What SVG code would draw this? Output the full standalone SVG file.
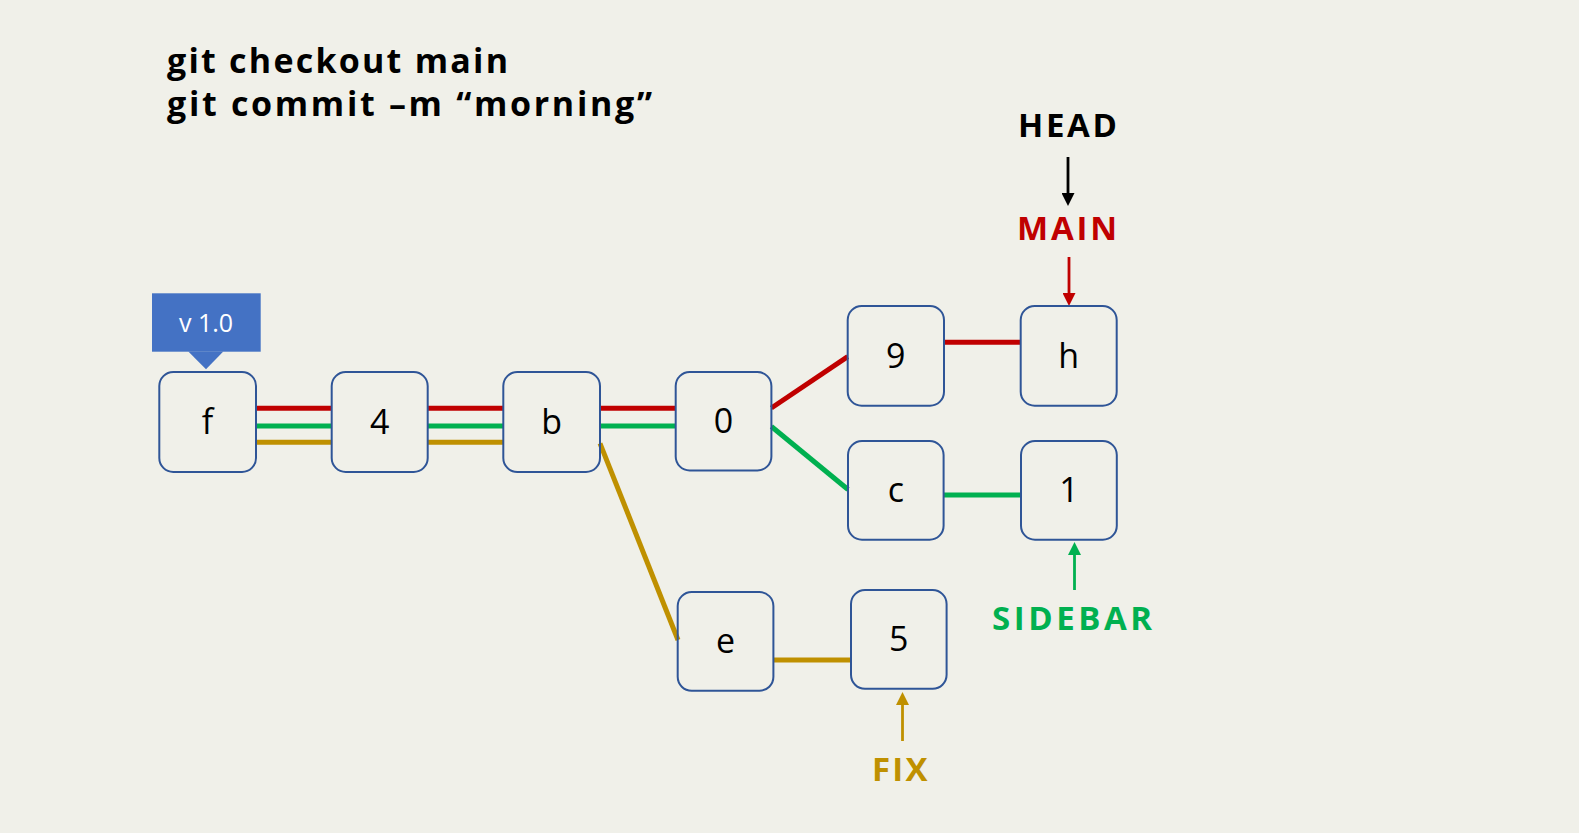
<svg xmlns="http://www.w3.org/2000/svg" width="1579" height="833" viewBox="0 0 1579 833">
  <style>
    .node rect { fill: none; stroke: #2F5597; stroke-width: 2; }
    .node text { font-family: "Open Sans", "Liberation Sans", sans-serif; font-size: 34px; fill: #000; text-anchor: middle; }
    .title { font-family: "Open Sans", "Liberation Sans", sans-serif; font-weight: bold; font-size: 34px; fill: #000; }
    .lbl { font-family: "Open Sans", "Liberation Sans", sans-serif; font-weight: bold; font-size: 33px; }
    .red { stroke: #C00000; }
    .green { stroke: #00B050; }
    .gold { stroke: #BF9000; }
    .edge { stroke-width: 5; fill: none; }
    .ptr { stroke-width: 2.8; fill: none; }
  </style>
  <defs>
    <marker id="ah-black" markerUnits="userSpaceOnUse" markerWidth="13" markerHeight="13" refX="3" refY="6.5" orient="auto"><path d="M0,0 L13,6.5 L0,13 z" fill="#000"/></marker>
    <marker id="ah-red" markerUnits="userSpaceOnUse" markerWidth="13" markerHeight="13" refX="3" refY="6.5" orient="auto"><path d="M0,0 L13,6.5 L0,13 z" fill="#C00000"/></marker>
    <marker id="ah-green" markerUnits="userSpaceOnUse" markerWidth="13" markerHeight="13" refX="3" refY="6.5" orient="auto"><path d="M0,0 L13,6.5 L0,13 z" fill="#00B050"/></marker>
    <marker id="ah-gold" markerUnits="userSpaceOnUse" markerWidth="13" markerHeight="13" refX="3" refY="6.5" orient="auto"><path d="M0,0 L13,6.5 L0,13 z" fill="#BF9000"/></marker>
  </defs>

  <rect x="0" y="0" width="1579" height="833" fill="#F0F0E9"/>

  <g id="title">
    <text class="title" x="167" y="73" textLength="341" lengthAdjust="spacing">git checkout main</text>
    <text class="title" x="167" y="116" textLength="485" lengthAdjust="spacing">git commit –m “morning”</text>
  </g>

  <g id="connectors">
    <line class="edge red" x1="256" y1="408.3" x2="331.7" y2="408.3"/>
    <line class="edge green" x1="256" y1="426" x2="331.7" y2="426"/>
    <line class="edge gold" x1="256" y1="442.3" x2="331.7" y2="442.3"/>
    <line class="edge red" x1="427.7" y1="408.3" x2="503.3" y2="408.3"/>
    <line class="edge green" x1="427.7" y1="426" x2="503.3" y2="426"/>
    <line class="edge gold" x1="427.7" y1="442.3" x2="503.3" y2="442.3"/>
    <line class="edge red" x1="600" y1="408.3" x2="675.7" y2="408.3"/>
    <line class="edge green" x1="600" y1="426" x2="675.7" y2="426"/>
    <line class="edge gold" x1="600" y1="443.3" x2="678" y2="640"/>
    <line class="edge red" x1="771.4" y1="408" x2="847.7" y2="356.6"/>
    <line class="edge green" x1="771.4" y1="426.5" x2="848" y2="489.5"/>
    <line class="edge red" x1="944" y1="342.3" x2="1020.7" y2="342.3"/>
    <line class="edge green" x1="943.6" y1="495" x2="1021" y2="495"/>
    <line class="edge gold" x1="773.4" y1="660" x2="851" y2="660"/>

    <line class="ptr" stroke="#000" x1="1068" y1="157" x2="1068" y2="196" marker-end="url(#ah-black)"/>
    <line class="ptr red" x1="1069" y1="257" x2="1069" y2="296" marker-end="url(#ah-red)"/>
    <line class="ptr green" x1="1074.5" y1="590" x2="1074.5" y2="552" marker-end="url(#ah-green)"/>
    <line class="ptr gold" x1="902.5" y1="741" x2="902.5" y2="702" marker-end="url(#ah-gold)"/>
  </g>

  <g id="tag-v1">
    <rect x="152" y="293.3" width="108.7" height="58.4" fill="#4472C4"/>
    <polygon points="188.3,351.5 223.3,351.5 206,369.3" fill="#4472C4"/>
    <text x="206" y="332" font-family="Open Sans, Liberation Sans, sans-serif" font-size="25" fill="#FFFFFF" text-anchor="middle">v 1.0</text>
  </g>

  <g id="node-f" class="node"><rect x="159.3" y="372" width="96.7" height="100" rx="14"/><text x="207.6" y="434">f</text></g>
  <g id="node-4" class="node"><rect x="331.7" y="372" width="96" height="100" rx="14"/><text x="379.7" y="434">4</text></g>
  <g id="node-b" class="node"><rect x="503.3" y="372" width="96.7" height="100" rx="14"/><text x="551.6" y="434">b</text></g>
  <g id="node-0" class="node"><rect x="675.7" y="372" width="95.7" height="98.5" rx="14"/><text x="723.5" y="433">0</text></g>
  <g id="node-9" class="node"><rect x="847.7" y="306" width="96.3" height="99.7" rx="14"/><text x="895.8" y="368">9</text></g>
  <g id="node-h" class="node"><rect x="1020.7" y="306" width="96" height="99.7" rx="14"/><text x="1068.7" y="368">h</text></g>
  <g id="node-c" class="node"><rect x="848" y="441" width="95.6" height="98.7" rx="14"/><text x="895.8" y="502">c</text></g>
  <g id="node-1" class="node"><rect x="1021" y="441" width="95.8" height="98.7" rx="14"/><text x="1068.9" y="502">1</text></g>
  <g id="node-e" class="node"><rect x="677.7" y="592" width="95.7" height="98.8" rx="14"/><text x="725.5" y="653">e</text></g>
  <g id="node-5" class="node"><rect x="851" y="590" width="95.6" height="98.8" rx="14"/><text x="898.8" y="651">5</text></g>

  <g id="label-head"><text class="lbl" x="1018" y="137" fill="#000" textLength="99" lengthAdjust="spacing">HEAD</text></g>
  <g id="label-main"><text class="lbl" x="1017" y="240" fill="#C00000" textLength="100" lengthAdjust="spacing">MAIN</text></g>
  <g id="label-sidebar"><text class="lbl" x="992" y="630" fill="#00B050" textLength="160" lengthAdjust="spacing">SIDEBAR</text></g>
  <g id="label-fix"><text class="lbl" x="872" y="781" fill="#BF9000" textLength="55.5" lengthAdjust="spacing">FIX</text></g>
</svg>
